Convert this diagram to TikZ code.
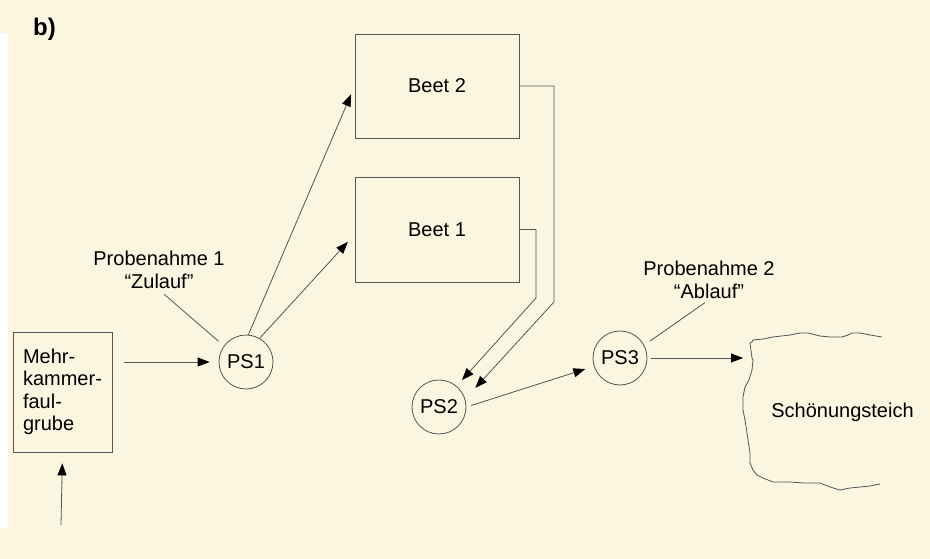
\documentclass[tikz,border=0pt]{standalone}
\usepackage{fontspec}
\setmainfont{Liberation Sans}
\usepackage{tikz}
\usetikzlibrary{arrows.meta}

\definecolor{papier}{RGB}{251,246,224}
\definecolor{strich}{RGB}{85,85,85}

\begin{document}
\begin{tikzpicture}[x=1pt, y=-1pt,
    every node/.style={font=\fontsize{20}{22.5}\selectfont},
    box/.style={draw=strich, line width=0.8pt, minimum width=164, minimum height=104},
    ps/.style={draw=strich, line width=0.8pt, circle, minimum size=54, inner sep=0pt},
    arr/.style={draw=strich, line width=0.8pt, -{Triangle[length=12pt, width=9pt, color=black]}},
    leit/.style={draw=strich, line width=0.8pt}]
  \useasboundingbox (0,0) rectangle (930,559);
  \fill[papier] (0,0) rectangle (930,559);
  \fill[white] (0,33) rectangle (8,528);
  \node[anchor=base west, inner sep=0pt, font=\fontsize{24}{28}\selectfont\bfseries] (teil) at (33,36) {b)};
  % Grube und Zulauf
  \node[draw=strich, line width=0.8pt, minimum width=99, minimum height=120, inner sep=0pt, align=left] (grube) at (62.5,392) {Mehr-\\kammer-\\faul-\\grube};
  \coordinate (zu) at (61,525);
  \node[ps] (PS1) at (246,362) {PS1};
  \node[ps] (PS2) at (439,407) {PS2};
  \node[ps] (PS3) at (620,358) {PS3};
  \node[box] (beet2) at (437,86) {Beet 2};
  \node[box, minimum height=105] (beet1) at (437,229.5) {Beet 1};
  \coordinate (k2) at (554,302);
  \coordinate (k1) at (536,298);
  \coordinate (einl) at (743,358);
  \draw[arr, shorten >=11pt] (zu) -- (grube.south);
  \draw[arr, shorten <=12pt, shorten >=9pt] (grube.east |- PS1.west) -- (PS1.west);
  \draw[arr, shorten >=9pt] (PS1.85) -- (beet2.west);
  \draw[arr, shorten >=10pt] (PS1.60) -- ([yshift=-5pt]beet1.west);
  \draw[arr, shorten >=15pt] (beet2.east) -| (k2) -- (PS2.17);
  \draw[arr, shorten >=8pt] (beet1.east) -| (k1) -- (PS2.50);
  \draw[arr, shorten <=5pt, shorten >=9pt] (PS2.east) -- (PS3);
  \draw[arr, shorten <=4pt] (PS3.east) -- (einl);
  % Probenahmestellen
  \node[align=center, inner sep=1pt] (probe1) at (159,270) {Probenahme 1\\“Zulauf”};
  \node[align=center, inner sep=1pt] (probe2) at (709,280) {Probenahme 2\\“Ablauf”};
  \draw[leit, shorten <=7pt, shorten >=7pt] (probe1.south) -- (PS1.144);
  \draw[leit, shorten <=5pt, shorten >=7pt] (probe2.south) -- (PS3.28);
  % Teich
  \draw[strich, line width=0.8pt] (882,337) -- (870,335) -- (860,333) -- (852,333) -- (848,335) -- (842,337) -- (830,337) -- (820,336) -- (808,333) -- (800,333) -- (790,335) -- (773,337) -- (763,339) -- (753,340) -- (752,342)
    -- (750,343) -- (752,358) -- (753,360) -- (752,370) -- (749,380) -- (745,387) -- (743,397) -- (743,410) -- (745,420) -- (747,433) -- (748,440) -- (750,453) -- (750,463) -- (753,470) -- (757,475) -- (763,478)
    -- (773,482) -- (790,482) -- (803,483) -- (820,483) -- (830,487) -- (840,490) -- (850,488) -- (860,487) -- (870,486) -- (880,484);
  \node[anchor=base, inner sep=0pt] (teich) at (842.5,417) {Schönungsteich};
\end{tikzpicture}
\end{document}
